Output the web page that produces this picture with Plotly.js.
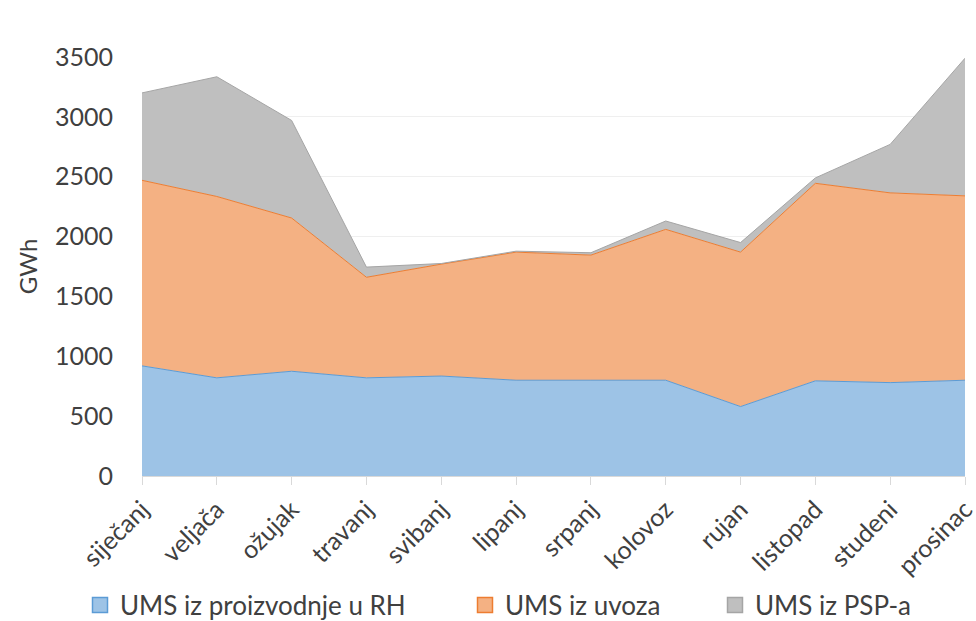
<!DOCTYPE html>
<html>
<head>
<meta charset="utf-8">
<script src="https://cdn.plot.ly/plotly-3.0.1.min.js"></script>
<style>html,body{margin:0;padding:0;background:#fff;}#chart{width:976px;height:621px;}</style>
</head>
<body>
<div id="chart"></div>
<script>
const months = ["siječanj","veljača","ožujak","travanj","svibanj","lipanj","srpanj","kolovoz","rujan","listopad","studeni","prosinac"];
const proizvodnja = [920, 820, 875, 820, 835, 800, 800, 800, 580, 795, 780, 800];
const uvoz = [1550, 1515, 1280, 840, 935, 1070, 1045, 1260, 1290, 1650, 1585, 1540];
const psp = [730, 1000, 815, 85, 5, 8, 20, 70, 80, 45, 405, 1150];
const seriesNames = ["UMS iz proizvodnje u RH", "UMS iz uvoza", "UMS iz PSP-a"];

const font = "Lato, 'Open Sans', sans-serif";
const lineColors = ["#5b9bd5", "#ed7d31", "#a5a5a5"];
const fillColors = ["#9dc3e6", "#f4b183", "#bfbfbf"];
const legendIds = ["legend", "legend2", "legend3"];
const series = [proizvodnja, uvoz, psp];

const data = [];
series.forEach((y, i) => {
  data.push({x: months, y: y, name: seriesNames[i], type: "scatter", mode: "lines",
    stackgroup: "one", line: {color: lineColors[i], width: 1}, fillcolor: fillColors[i], showlegend: false});
});
series.forEach((y, i) => {
  data.push({x: [null], y: [null], name: seriesNames[i], type: "scatter", mode: "markers",
    marker: {symbol: "square", size: 15, color: fillColors[i], line: {color: lineColors[i], width: 1.5}},
    legend: legendIds[i], showlegend: true});
});
function lg(xpx) {
  return {x: xpx / 976, xref: "container", xanchor: "left", y: 1 - 605 / 621, yref: "container", yanchor: "middle",
    orientation: "h", font: {family: font, size: 26, color: "#404040"}, bgcolor: "rgba(0,0,0,0)"};
}
const layout = {
  width: 976, height: 621,
  margin: {l: 142, r: 11, t: 57, b: 145},
  paper_bgcolor: "#fff", plot_bgcolor: "#fff",
  font: {family: font, size: 25, color: "#404040"},
  showlegend: true,
  legend: lg(80),
  legend2: lg(465),
  legend3: lg(715),
  xaxis: {type: "category", range: [0, 11], tickangle: -45, showgrid: false, automargin: false,
    showline: true, linecolor: "#d9d9d9", ticks: "outside", ticklen: 8, tickcolor: "#d9d9d9",
    tickfont: {family: font, size: 25, color: "#404040"}, fixedrange: true},
  yaxis: {range: [0, 3500], dtick: 500, showgrid: true, gridcolor: "#efefef", zeroline: false, automargin: false,
    showline: false, tickfont: {family: font, size: 25, color: "#404040"}, ticklabelstandoff: 28,
    title: {text: "GWh", font: {family: font, size: 24, color: "#404040"}, standoff: 10}, fixedrange: true}
};
Plotly.newPlot("chart", data, layout, {displayModeBar: false, staticPlot: true});
</script>
</body>
</html>
